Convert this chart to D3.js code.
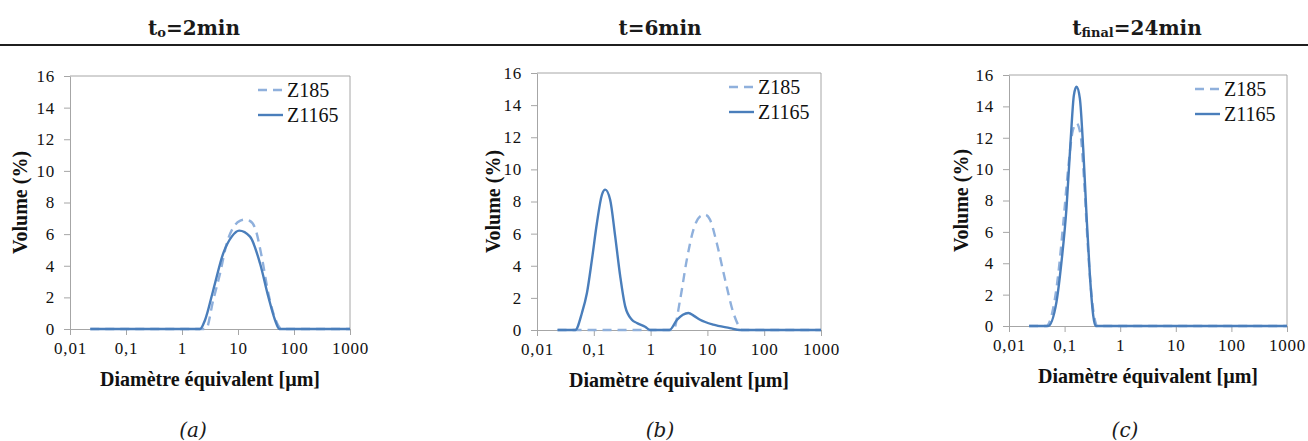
<html>
  <head>
    <meta charset="utf-8" />
    <script src="https://d3js.org/d3.v7.min.js"></script>
    <style>
      body {
        margin: 0;
        background: #fff;
      }
      .tick text {
        font-family: "Liberation Serif", "Times New Roman", serif;
        font-size: 17px;
        letter-spacing: 0.8px;
        fill: #111;
      }
      .axis-title {
        font-family: "Liberation Serif", "Times New Roman", serif;
        font-weight: bold;
        font-size: 20px;
        fill: #111;
      }
      .legend text {
        font-family: "Liberation Serif", "Times New Roman", serif;
        font-size: 20px;
        fill: #111;
      }
      .head {
        font-family: "DejaVu Serif", serif;
        font-weight: bold;
        font-size: 20px;
        fill: #1a1a1a;
      }
      .caption {
        font-family: "DejaVu Serif", serif;
        font-style: italic;
        font-size: 20px;
        fill: #1a1a1a;
      }
    </style>
  </head>

  <body>
    <svg id="chart" width="1308" height="441"></svg>
    <script>
      // x tick values (diameter, µm) and y tick values (volume %)
      var xTicks = [0.01, 0.1, 1, 10, 100, 1000];
      var yTicks = [0, 2, 4, 6, 8, 10, 12, 14, 16];
      var seriesNames = ["Z185", "Z1165"];
      var headers = ["2min", "6min", "24min"];
      var captions = ["(a)", "(b)", "(c)"];

      // (a) t0 = 2 min
      var sizeA185 = [0.023, 2.68, 3.62, 4.77, 6.28, 8.84, 11, 13.3, 16, 20.1, 26.5, 34.8, 45.8, 60.4, 1000];
      var volA185 = [0, 0, 1.84, 3.5, 5.4, 6.58, 6.85, 6.92, 6.85, 6.4, 4.58, 2.26, 0.68, 0, 0];
      var sizeA1165 = [0.023, 2.1, 2.58, 3.62, 5.47, 7.73, 10.5, 16.4, 24.7, 34.8, 45.8, 54.7, 1000];
      var volA1165 = [0, 0, 0.57, 2.47, 4.8, 5.84, 6.22, 5.84, 4.16, 2.04, 0.57, 0, 0];

      // (b) t = 6 min
      var sizeB185 = [0.023, 2.52, 3.31, 4.34, 5.68, 7.43, 9.1, 11.1, 14.6, 20.5, 28.7, 37.6, 40, 1000];
      var volB185 = [0, 0, 1.89, 4.38, 6.25, 7.07, 7.18, 6.87, 5.42, 3.13, 1.06, 0.12, 0, 0];
      var sizeB1165 = [0.023, 0.0472, 0.0618, 0.0757, 0.0927, 0.1135, 0.139, 0.159, 0.194, 0.238, 0.292, 0.357, 0.468, 0.573, 0.8, 0.98, 2.15, 2.9, 3.7, 4.63, 5.8, 7.43, 12.7, 25, 37.6, 1000];
      var volB1165 = [0, 0, 1.06, 2.3, 4.38, 6.66, 8.42, 8.74, 8.11, 5.83, 3.34, 1.47, 0.64, 0.44, 0.2, 0, 0, 0.62, 0.95, 1.06, 0.88, 0.64, 0.33, 0.12, 0, 0];

      // (c) t final = 24 min
      var sizeC185 = [0.023, 0.047, 0.0622, 0.0765, 0.094, 0.116, 0.139, 0.164, 0.194, 0.225, 0.259, 0.305, 0.365, 0.38, 1000];
      var volC185 = [0, 0, 1.11, 3.24, 6.43, 10.04, 12.38, 12.92, 12.17, 9.19, 5.36, 1.96, 0.15, 0, 0];
      var sizeC1165 = [0.023, 0.0505, 0.0714, 0.0879, 0.108, 0.128, 0.147, 0.164, 0.188, 0.216, 0.248, 0.285, 0.327, 0.36, 1000];
      var volC1165 = [0, 0, 1.53, 4.08, 7.49, 11.74, 14.72, 15.25, 14.51, 11.32, 7.06, 3.24, 0.68, 0, 0];

      var panels = [
        { left: 70, right: 350, top: 76, bottom: 329, ytitle: 50, head: 194, cap: 193,
          series: [[sizeA185, volA185], [sizeA1165, volA1165]] },
        { left: 537, right: 821, top: 73, bottom: 330, ytitle: 44, head: 660, cap: 660,
          series: [[sizeB185, volB185], [sizeB1165, volB1165]] },
        { left: 1009, right: 1287, top: 75, bottom: 326, ytitle: 48, head: 1137, cap: 1125,
          series: [[sizeC185, volC185], [sizeC1165, volC1165]] }
      ];

      var colors = ["#8fb0dc", "#4a7ebb"];
      var dashes = ["9,6", null];

      var svg = d3.select("#chart");

      svg.append("rect").attr("width", 1308).attr("height", 441).attr("fill", "#fff");

      // header rule
      svg.append("line")
        .attr("x1", 0).attr("x2", 1308)
        .attr("y1", 45).attr("y2", 45)
        .attr("stroke", "#1f1f1f")
        .attr("stroke-width", 2);

      // headers with subscripts
      var subs = ["o", null, "final"];
      panels.forEach(function (p, i) {
        var t = svg.append("text").attr("class", "head")
          .attr("x", p.head).attr("y", 35)
          .attr("text-anchor", "middle");
        t.append("tspan").text("t");
        if (subs[i]) {
          t.append("tspan").attr("font-size", 13).attr("dy", 2).text(subs[i]);
          t.append("tspan").attr("dy", -2).text("=" + headers[i]);
        } else {
          t.append("tspan").text("=" + headers[i]);
        }

        svg.append("text").attr("class", "caption")
          .attr("x", p.cap).attr("y", 437)
          .attr("text-anchor", "middle")
          .text(captions[i]);
      });

      panels.forEach(function (p) {
        var x = d3.scaleLog().domain([0.01, 1000]).range([p.left, p.right]);
        var y = d3.scaleLinear().domain([0, 16]).range([p.bottom, p.top]);

        var g = svg.append("g");

        // frame (top + right)
        g.append("path")
          .attr("d", "M" + p.left + "," + p.top + "H" + p.right + "V" + p.bottom)
          .attr("fill", "none")
          .attr("stroke", "#a6a6a6")
          .attr("stroke-width", 1);

        var xa = g.append("g")
          .attr("transform", "translate(0," + p.bottom + ")")
          .call(d3.axisBottom(x).tickValues(xTicks).tickSize(6).tickSizeOuter(0).tickPadding(7)
            .tickFormat(function (d) { return String(d).replace(".", ","); }));
        var ya = g.append("g")
          .attr("transform", "translate(" + p.left + ",0)")
          .call(d3.axisLeft(y).tickValues(yTicks).tickSize(6).tickSizeOuter(0).tickPadding(9));
        [xa, ya].forEach(function (a) {
          a.select(".domain").attr("stroke", "#a6a6a6");
          a.selectAll(".tick line").attr("stroke", "#a6a6a6");
        });

        g.append("text").attr("class", "axis-title")
          .attr("x", (p.left + p.right) / 2)
          .attr("y", p.bottom + 57)
          .attr("text-anchor", "middle")
          .text("Diamètre équivalent [µm]");

        g.append("text").attr("class", "axis-title")
          .attr("transform", "translate(" + (p.left - p.ytitle + 7) + "," + (p.top + p.bottom) / 2 + ") rotate(-90)")
          .attr("text-anchor", "middle")
          .text("Volume (%)");

        var line = d3.line()
          .x(function (d) { return x(d[0]); })
          .y(function (d) { return y(d[1]); })
          .curve(d3.curveMonotoneX);

        p.series.forEach(function (s, k) {
          g.append("path")
            .datum(d3.zip(s[0], s[1]))
            .attr("d", line)
            .attr("fill", "none")
            .attr("stroke", colors[k])
            .attr("stroke-width", 2.4)
            .attr("stroke-dasharray", dashes[k]);
        });

        // legend
        var lg = g.append("g").attr("class", "legend");
        seriesNames.forEach(function (name, k) {
          var ly = p.top + 14 + k * 25;
          lg.append("line")
            .attr("x1", p.right - 92).attr("x2", p.right - 67)
            .attr("y1", ly).attr("y2", ly)
            .attr("stroke", colors[k])
            .attr("stroke-width", 2.4)
            .attr("stroke-dasharray", dashes[k]);
          lg.append("text")
            .attr("x", p.right - 63).attr("y", ly + 7)
            .text(name);
        });
      });
    </script>
  </body>
</html>
